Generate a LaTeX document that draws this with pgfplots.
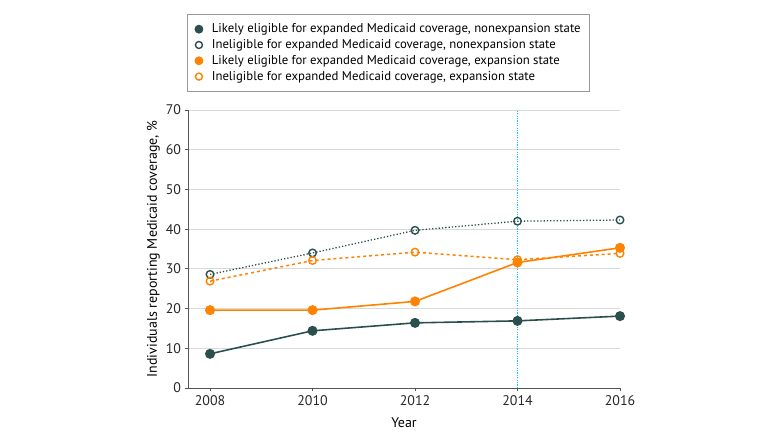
\documentclass[border=0pt]{standalone}
\usepackage{pgfplots}
\pgfplotsset{compat=1.18}
\usepackage{fontspec}
\setmainfont{PT Sans}
\definecolor{tealc}{HTML}{2A4F4D}
\definecolor{orangec}{HTML}{FF8200}
\definecolor{gridc}{HTML}{D9D9D9}
\definecolor{axisc}{HTML}{555555}
\definecolor{vlinec}{rgb}{0.0,0.82,0.92}
\begin{document}
\begin{tikzpicture}[x=1bp,y=1bp]
\useasboundingbox (0,0) rectangle (780,445);
\begin{axis}[
  at={(188bp,57bp)}, anchor=south west,
  scale only axis, width=432bp, height=278bp,
  xmin=2007.57, xmax=2016, ymin=0, ymax=70,
  axis x line*=bottom, axis y line*=left,
  axis line style={color=axisc, line width=0.8pt},
  xtick={2008,2010,2012,2014,2016},
  ytick={0,10,...,70},
  tick align=outside, major tick length=3.5bp,
  tick style={color=axisc, line width=0.8pt},
  ymajorgrids, grid style={color=gridc, line width=0.9pt},
  x tick label style={/pgf/number format/1000 sep={}, yshift=-1bp},
  /pgf/number format/assume math mode=true,
  tick label style={font=\fontsize{14}{16}\selectfont, color=black!85},
  label style={font=\fontsize{14}{16}\selectfont},
  xlabel={Year}, ylabel={Individuals reporting Medicaid coverage, \%},
  xlabel style={yshift=-5bp},
  ylabel style={yshift=-1bp},
  clip=false,
  legend style={at={(-0.002,1.347)}, anchor=north west, draw=gray!80, line width=0.8pt,
    font=\fontsize{12.8}{15}\selectfont, legend cell align=left, inner xsep=7bp, inner ysep=8bp,
    row sep=1.3bp, /tikz/every odd column/.append style={column sep=6.5bp}},
]
\addlegendimage{legend image code/.code={\fill[tealc] (0.12cm,0) circle (4bp);}}
\addlegendentry{Likely eligible for expanded Medicaid coverage, nonexpansion state}
\addlegendimage{legend image code/.code={\draw[tealc, line width=1.4pt, fill=white] (0.12cm,0) circle (3.5bp);}}
\addlegendentry{Ineligible for expanded Medicaid coverage, nonexpansion state}
\addlegendimage{legend image code/.code={\fill[orangec] (0.12cm,0) circle (4bp);}}
\addlegendentry{Likely eligible for expanded Medicaid coverage, expansion state}
\addlegendimage{legend image code/.code={\draw[orangec, line width=1.4pt, fill=white] (0.12cm,0) circle (3.5bp);}}
\addlegendentry{Ineligible for expanded Medicaid coverage, expansion state}

\addplot[forget plot, color=vlinec, line width=1.0bp, dash pattern=on 1.2bp off 1.2bp] coordinates {(2014,0) (2014,70)};

\addplot[forget plot, tealc, dotted, line width=1.3pt, mark=o, mark size=3.8pt,
  mark options={solid, fill=white, line width=1.4pt}]
  coordinates {(2008,28.6) (2010,34.0) (2012,39.7) (2014,42.0) (2016,42.3)};
\addplot[forget plot, orangec, dashed, line width=1.5pt, mark=o, mark size=3.8pt,
  mark options={solid, fill=white, line width=1.4pt}]
  coordinates {(2008,26.9) (2010,32.1) (2012,34.2) (2014,32.3) (2016,33.9)};
\addplot[forget plot, orangec, line width=1.6pt, mark=*, mark size=4.2pt]
  coordinates {(2008,19.6) (2010,19.6) (2012,21.8) (2014,31.6) (2016,35.3)};
\addplot[forget plot, tealc, line width=1.6pt, mark=*, mark size=4.2pt]
  coordinates {(2008,8.6) (2010,14.4) (2012,16.4) (2014,16.9) (2016,18.1)};
\end{axis}
\end{tikzpicture}
\end{document}
